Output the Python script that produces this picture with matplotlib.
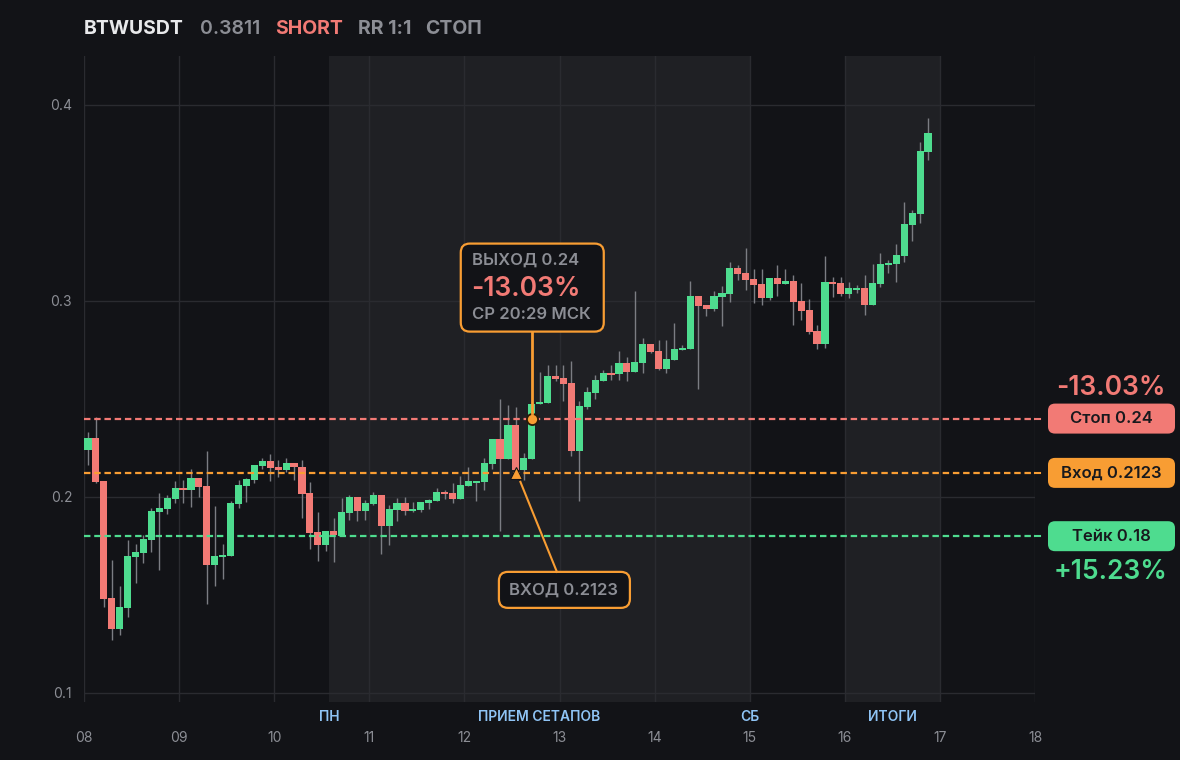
import matplotlib.pyplot as plt
from matplotlib.patches import FancyBboxPatch
from matplotlib.lines import Line2D
from matplotlib.transforms import IdentityTransform

plt.rcParams['font.family'] = ['Inter', 'DejaVu Sans']

# header
symbol = "BTWUSDT"
last_price = "0.3811"
side = "SHORT"
rr_text = "RR 1:1"
status = "СТОП"

# 2h candles starting on day 08
opens = [.2240, .2301, .2082, .1485, .1327, .1434, .1694, .1714, .1781, .1924,
         .1939, .1990, .2046, .2036, .2097, .2056, .1653, .1694, .1699, .1964,
         .2056, .2087, .2158, .2184, .2153, .2138, .2174, .2153, .2021, .1822,
         .1755, .1827, .1801, .1919, .2000, .1929, .1964, .2010, .1852, .1934,
         .1969, .1929, .1934, .1969, .1980, .2026, .2020, .1990, .2056, .2071,
         .2077, .2168, .2296, .2194, .2367, .2138, .2194, .2474, .2480, .2617,
         .2607, .2582, .2235, .2459, .2531, .2592, .2633, .2628, .2684, .2638,
         .2684, .2781, .2745, .2653, .2699, .2750, .2755, .3026, .2980, .2959,
         .3020, .3036, .3168, .3143, .3112, .3087, .3015, .3117, .3087, .3102,
         .3000, .2954, .2847, .2781, .3097, .3092, .3036, .3056, .3066, .2980,
         .3087, .3184, .3189, .3230, .3388, .3444, .3760]
highs = [.2332, .2410, .2082, .1679, .1546, .1781, .1760, .1806, .1944, .2021,
         .2010, .2082, .2087, .2143, .2097, .2235, .1954, .1760, .1980, .2087,
         .2097, .2163, .2199, .2219, .2189, .2199, .2174, .2189, .2077, .1924,
         .1827, .1893, .1995, .2010, .2000, .1985, .2026, .2010, .1960, .1995,
         .2000, .1974, .1974, .1990, .2046, .2036, .2071, .2107, .2153, .2082,
         .2199, .2296, .2500, .2469, .2459, .2224, .2474, .2638, .2673, .2673,
         .2673, .2694, .2490, .2561, .2622, .2648, .2673, .2745, .2714, .3051,
         .2811, .2781, .2801, .2801, .2888, .2776, .3102, .3026, .2980, .3050,
         .3077, .3199, .3184, .3270, .3163, .3163, .3117, .3184, .3163, .3133,
         .3092, .3010, .2878, .3230, .3122, .3122, .3097, .3082, .3133, .3189,
         .3245, .3209, .3291, .3505, .3464, .3811, .3934]
lows = [.2163, .2070, .1437, .1271, .1296, .1388, .1561, .1663, .1720, .1628,
        .1913, .1969, .1969, .1949, .2000, .1454, .1546, .1582, .1699, .1944,
        .1975, .2071, .2143, .2082, .2102, .2128, .2087, .1893, .1735, .1674,
        .1725, .1668, .1801, .1883, .1878, .1883, .1959, .1709, .1755, .1878,
        .1908, .1924, .1924, .1939, .1980, .1990, .1969, .1990, .2056, .1980,
        .2036, .2143, .1827, .2194, .2130, .2087, .2194, .2474, .2480, .2590,
        .2490, .2209, .1980, .2450, .2500, .2590, .2597, .2597, .2592, .2638,
        .2633, .2735, .2648, .2633, .2699, .2750, .2755, .2553, .2923, .2950,
        .2872, .2995, .3107, .3056, .2990, .2980, .3005, .3025, .3085, .2878,
        .2903, .2832, .2755, .2760, .3020, .3026, .3015, .3041, .2929, .2980,
        .3071, .3143, .3097, .3199, .3306, .3398, .3719]
closes = [.2301, .2078, .1480, .1327, .1439, .1699, .1720, .1786, .1929, .1944,
          .1995, .2046, .2036, .2097, .2051, .1653, .1699, .1704, .1969, .2061,
          .2092, .2163, .2184, .2148, .2138, .2174, .2153, .2015, .1816, .1755,
          .1827, .1806, .1924, .2000, .1929, .1969, .2010, .1852, .1939, .1969,
          .1929, .1939, .1974, .1985, .2026, .2015, .1990, .2061, .2082, .2082,
          .2173, .2296, .2194, .2367, .2138, .2199, .2474, .2485, .2617, .2602,
          .2576, .2235, .2464, .2536, .2597, .2633, .2622, .2684, .2638, .2689,
          .2781, .2740, .2653, .2704, .2755, .2760, .3026, .2975, .2959, .3026,
          .3041, .3168, .3138, .3107, .3082, .3015, .3117, .3087, .3102, .2995,
          .2949, .2842, .2781, .3097, .3087, .3036, .3066, .3066, .2980, .3092,
          .3189, .3194, .3235, .3393, .3449, .3765, .3857]

start_day = 8
candles_per_day = 12

stop_price = 0.24
entry_price = 0.2123
take_price = 0.18
entry_idx = 54
exit_idx = 56
stop_pct = "-13.03%"
take_pct = "+15.23%"
exit_time = "СР 20:29 МСК"

day_ticks = list(range(8, 19))
sessions = [(10.58, 15.0), (16.0, 17.0)]
session_names = ["ПН", "ПРИЕМ СЕТАПОВ", "СБ", "ИТОГИ"]
session_pos = [10.58, 12.79, 15.0, 16.5]

BG = '#121317'
BAND = '#1f2024'
GRID = '#2a2b30'
GREEN = '#4edc8f'
RED = '#f27a75'
ORANGE = '#f89d33'
WICK = '#7b7d83'
GRAY = '#8c8e95'
BLUE = '#8fc4f5'
DARK = '#18191d'

fig = plt.figure(figsize=(11.8, 7.6), dpi=100, facecolor=BG)
ax = fig.add_axes([84 / 1180, 58 / 760, 951 / 1180, 646 / 760])
ax.set_facecolor(BG)
ax.set_xlim(8, 18)
ax.set_ylim(0.0954, 0.425)

for a, b in sessions:
    ax.axvspan(a, b, color=BAND, lw=0, zorder=0)

ax.set_xticks(day_ticks)
ax.set_xticklabels([f"{d:02d}" for d in day_ticks])
ax.set_yticks([0.1, 0.2, 0.3, 0.4])
ax.set_yticklabels(["0.1", "0.2", "0.3", "0.4"])
ax.grid(color=GRID, lw=1, zorder=1)
ax.tick_params(length=0, colors=GRAY, labelsize=10)
ax.tick_params(axis='x', pad=21)
ax.tick_params(axis='y', pad=8.5)
for s in ax.spines.values():
    s.set_visible(False)

for name, pos in zip(session_names, session_pos):
    ax.text(pos, -0.023, name, transform=ax.get_xaxis_transform(),
            ha='center', va='center', color=BLUE, fontsize=10, fontweight='semibold')

# candles
xs = [start_day + (i + 0.5) / candles_per_day for i in range(len(opens))]
bottoms = [min(o, c) for o, c in zip(opens, closes)]
heights = [max(abs(c - o), 0.0012) for o, c in zip(opens, closes)]
colors = [GREEN if c >= o else RED for o, c in zip(opens, closes)]
ax.vlines(xs, lows, highs, color=WICK, lw=1, zorder=3)
ax.bar(xs, heights, bottom=bottoms, width=0.9 / candles_per_day,
       color=colors, lw=0, zorder=4)

# levels
for price, col in [(stop_price, RED), (entry_price, ORANGE), (take_price, GREEN)]:
    ax.axhline(price, color=col, lw=1.6, ls=(0, (2.9, 1.7)), zorder=5)

x_entry = xs[entry_idx]
x_exit = xs[exit_idx]
ax.plot(x_exit, stop_price, 'o', ms=8, mfc=ORANGE, mec='#2a1a08', mew=1.3, zorder=8)
ax.plot(x_entry, entry_price, '^', ms=9, mfc=ORANGE, mec=BG, mew=0.8, zorder=8)

idt = IdentityTransform()
fig.canvas.draw()

# exit annotation
mx, my = ax.transData.transform((x_exit, stop_price))
fig.add_artist(Line2D([mx, mx], [my + 6, my + 87], color=ORANGE, lw=2, transform=idt))
fig.add_artist(FancyBboxPatch((mx - 71, my + 87), 143, 88,
                              boxstyle='round,pad=0,rounding_size=9',
                              fc=BG, ec=ORANGE, lw=1.6, transform=idt))
fig.text(mx - 60, my + 158, f"ВЫХОД {stop_price:.2f}", transform=idt,
         color=GRAY, fontsize=12, fontweight='semibold', va='center', ha='left')
fig.text(mx - 61, my + 130, stop_pct, transform=idt,
         color=RED, fontsize=19, fontweight='semibold', va='center', ha='left')
fig.text(mx - 60, my + 104, exit_time, transform=idt,
         color=GRAY, fontsize=12, fontweight='semibold', va='center', ha='left')

# entry annotation
tx, ty = ax.transData.transform((x_entry, entry_price))
fig.add_artist(Line2D([tx + 4.5, tx + 41], [ty - 9, ty - 99], color=ORANGE, lw=1.5, transform=idt))
fig.add_artist(FancyBboxPatch((tx - 17, ty - 135), 131, 36,
                              boxstyle='round,pad=0,rounding_size=9',
                              fc=BG, ec=ORANGE, lw=1.6, transform=idt))
fig.text(tx + 48, ty - 117, f"ВХОД {entry_price}", transform=idt,
         color=GRAY, fontsize=12, fontweight='semibold', va='center', ha='center')

# right side labels
right_labels = [(stop_price, RED, f"Стоп {stop_price:.2f}"),
                (entry_price, ORANGE, f"Вход {entry_price}"),
                (take_price, GREEN, f"Тейк {take_price:.2f}")]
for price, col, label in right_labels:
    _, ly = ax.transData.transform((18, price))
    fig.add_artist(Line2D([1035, 1040], [ly, ly], color=col, lw=1.5, transform=idt))
    fig.add_artist(FancyBboxPatch((1048, ly - 15), 127, 30,
                                  boxstyle='round,pad=0,rounding_size=7',
                                  fc=col, ec='none', transform=idt))
    fig.text(1111.5, ly, label, transform=idt, color=DARK, fontsize=12,
             fontweight='semibold', ha='center', va='center')

_, sy = ax.transData.transform((18, stop_price))
_, ky = ax.transData.transform((18, take_price))
fig.text(1111, sy + 31, stop_pct, transform=idt, color=RED, fontsize=19,
         fontweight='semibold', ha='center', va='center')
fig.text(1111, ky - 36, take_pct, transform=idt, color=GREEN, fontsize=19,
         fontweight='semibold', ha='center', va='center')

# header line
header = [(84, symbol, '#e8e9eb', 'bold'),
          (200, last_price, GRAY, 'semibold'),
          (275, side, RED, 'bold'),
          (358, rr_text, GRAY, 'bold'),
          (425, status, GRAY, 'bold')]
for x, txt, col, w in header:
    fig.text(x, 760 - 29, txt, transform=idt, color=col, fontsize=14,
             fontweight=w, ha='left', va='center')

fig.savefig('out.png', dpi=100, facecolor=BG)
